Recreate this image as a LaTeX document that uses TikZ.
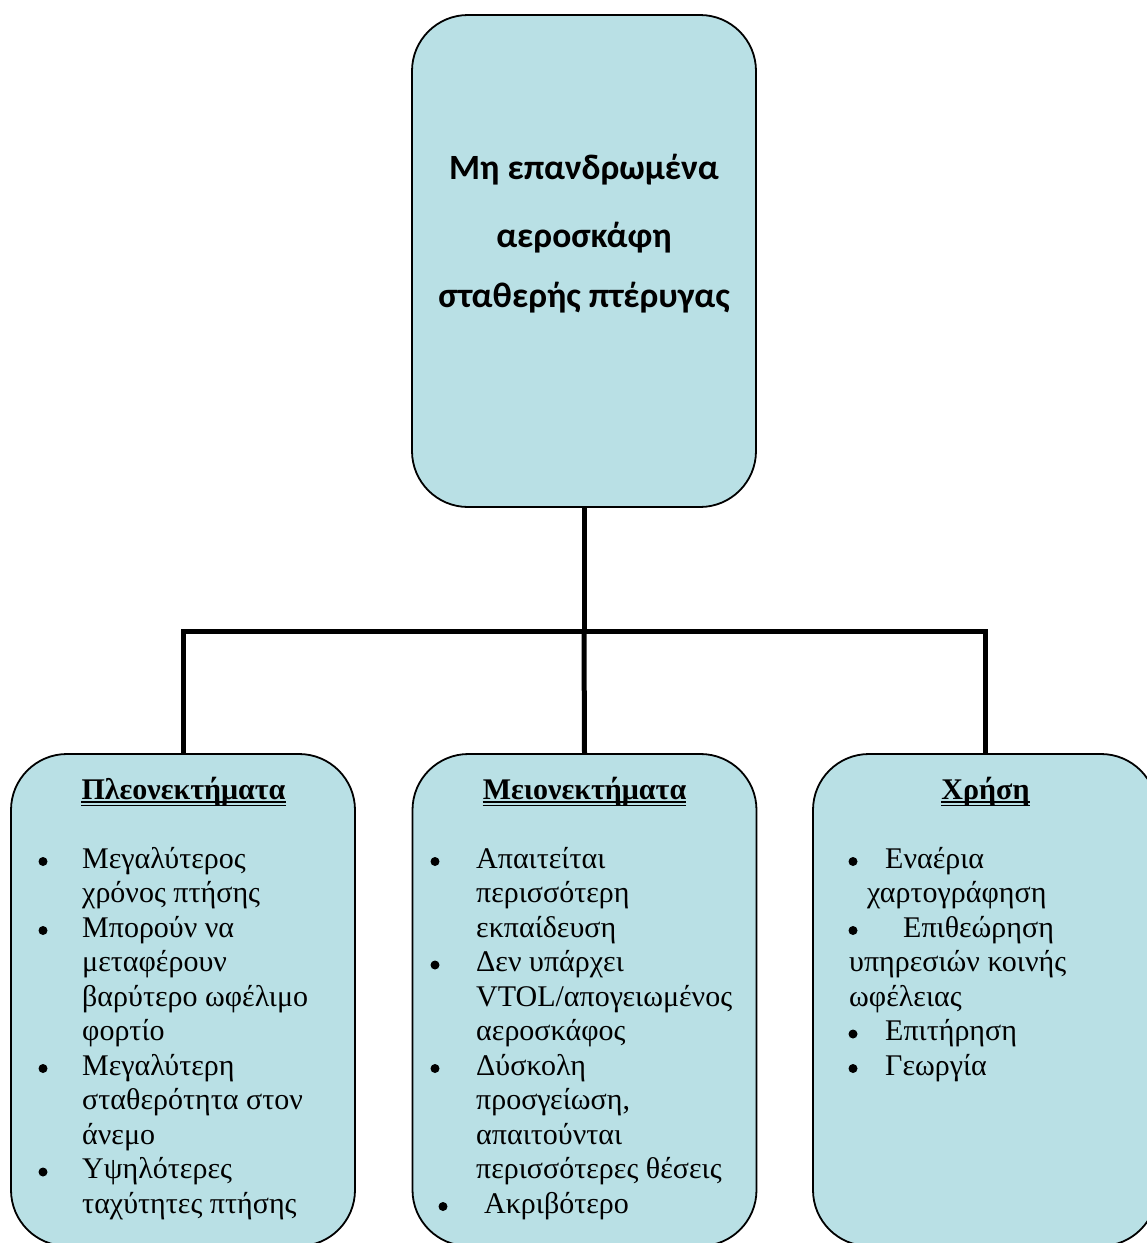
\documentclass[tikz,border=0pt]{standalone}
\usepackage{fontspec}
\setmainfont{Liberation Serif}
\newfontfamily\titlefont{Carlito}
\definecolor{boxfill}{RGB}{185,224,229}
\begin{document}
\begin{tikzpicture}[x=1pt,y=-1pt,
  box/.style={draw=black, line width=1.8pt, fill=boxfill, rounded corners=56pt,
    minimum width=344pt, minimum height=492pt, inner sep=0pt},
  conn/.style={draw=black, line width=5pt, line join=miter},
  ln/.style={anchor=base west, inner sep=0pt, font=\fontsize{30}{34.5}\selectfont},
  hd/.style={anchor=base, inner sep=0pt, font=\fontsize{30}{34.5}\selectfont\bfseries},
  ttl/.style={anchor=base, inner sep=0pt, font=\titlefont\bfseries\fontsize{35.5}{42}\selectfont},
  dot/.style={circle, fill=black, inner sep=0pt, minimum size=9pt}]
\useasboundingbox (0,0) rectangle (1147,1243);

% boxes
\node[box] (top) at (584,261) {};
\node[box] (lft) at (183,1000) {};
\node[box] (mid) at (584.5,1000) {};
\node[box] (rgt) at (985,1000) {};

% connectors
\coordinate (j) at (584,631);
\draw[conn] (top.south) -- (j);
\draw[conn] (lft.north) |- (j) -| (rgt.north);
\draw[conn] (j) -- (mid.north);

% title
\node[ttl] (t1) at (584,179) {Μη επανδρωμένα};
\node[ttl] (t2) at (584,247) {αεροσκάφη};
\node[ttl] (t3) at (584,307) {σταθερής πτέρυγας};

% headings
\node[hd] (h1) at (183.5,799) {Πλεονεκτήματα};
\node[hd] (h2) at (584.5,799) {Μειονεκτήματα};
\node[hd] (h3) at (985.5,799) {Χρήση};
\foreach \h in {h1,h2,h3}{
  \draw[line width=1.8pt] ([yshift=-3pt]\h.base west) -- ([yshift=-3pt]\h.base east);
  \draw[line width=0.9pt] ([yshift=-6.5pt]\h.base west) -- ([yshift=-6.5pt]\h.base east);
}

% left box
\node[dot] (lb1) at (43,861.5) {};
\node[ln] (l0) at (82,868) {Μεγαλύτερος};
\node[ln] (l1) at (82,902.5) {χρόνος πτήσης};
\node[dot] (lb2) at (43,930.5) {};
\node[ln] (l2) at (82,937) {Μπορούν να};
\node[ln] (l3) at (82,971.5) {μεταφέρουν};
\node[ln] (l4) at (82,1006) {βαρύτερο ωφέλιμο};
\node[ln] (l5) at (82,1040.5) {φορτίο};
\node[dot] (lb3) at (43,1068.5) {};
\node[ln] (l6) at (82,1075) {Μεγαλύτερη};
\node[ln] (l7) at (82,1109.5) {σταθερότητα στον};
\node[ln] (l8) at (82,1144) {άνεμο};
\node[dot] (lb4) at (43,1172) {};
\node[ln] (l9) at (82,1178.5) {Υψηλότερες};
\node[ln] (l10) at (82,1213) {ταχύτητες πτήσης};

% middle box
\node[dot] (mb1) at (435,861.5) {};
\node[ln] (m0) at (476,868) {Απαιτείται};
\node[ln] (m1) at (476,902.5) {περισσότερη};
\node[ln] (m2) at (476,937) {εκπαίδευση};
\node[dot] (mb2) at (435,965) {};
\node[ln] (m3) at (476,971.5) {Δεν υπάρχει};
\node[ln] (m4) at (476,1006) {VTOL/απογειωμένος};
\node[ln] (m5) at (476,1040.5) {αεροσκάφος};
\node[dot] (mb3) at (435,1068.5) {};
\node[ln] (m6) at (476,1075) {Δύσκολη};
\node[ln] (m7) at (476,1109.5) {προσγείωση,};
\node[ln] (m8) at (476,1144) {απαιτούνται};
\node[ln] (m9) at (476,1178.5) {περισσότερες θέσεις};
\node[dot] (mb4) at (443,1206.5) {};
\node[ln] (m10) at (484,1213) {Ακριβότερο};

% right box
\node[dot] (rb1) at (853,861.5) {};
\node[ln] (r0) at (885,868) {Εναέρια};
\node[ln] (r1) at (867,902.5) {χαρτογράφηση};
\node[dot] (rb2) at (853,930.5) {};
\node[ln] (r2) at (903,937) {Επιθεώρηση};
\node[ln] (r3) at (849,971.5) {υπηρεσιών κοινής};
\node[ln] (r4) at (849,1006) {ωφέλειας};
\node[dot] (rb3) at (853,1034) {};
\node[ln] (r5) at (885,1040.5) {Επιτήρηση};
\node[dot] (rb4) at (853,1068.5) {};
\node[ln] (r6) at (885,1075) {Γεωργία};
\end{tikzpicture}
\end{document}
